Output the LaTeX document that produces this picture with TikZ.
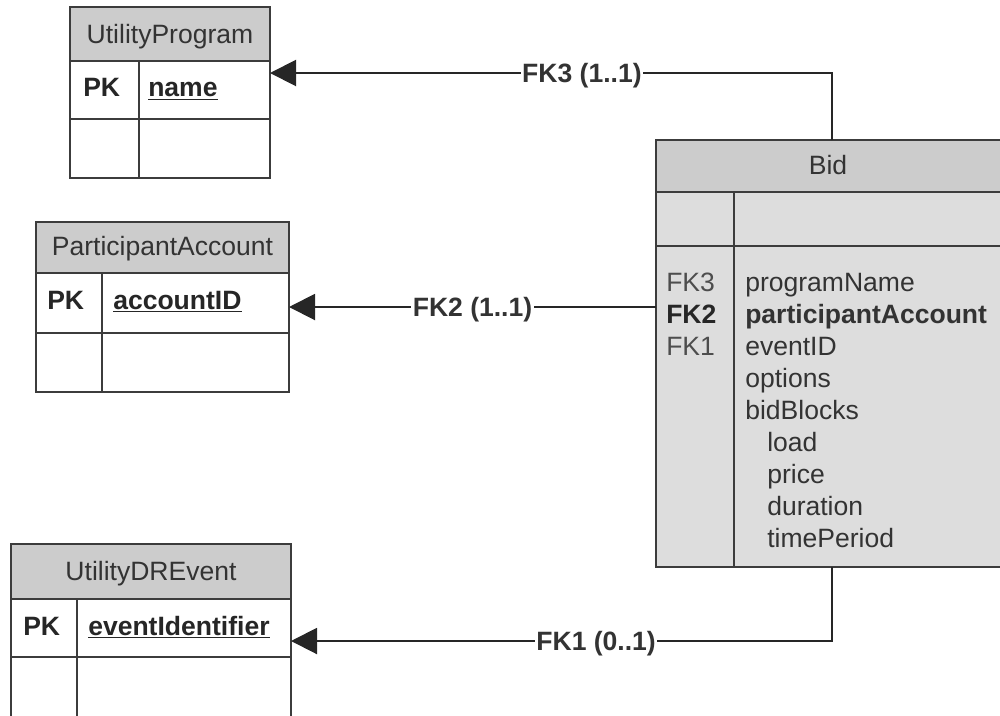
\documentclass[tikz,border=0pt]{standalone}
\usepackage{fontspec}
\setmainfont{Liberation Sans}
\usetikzlibrary{arrows.meta,fit}
\definecolor{tline}{HTML}{3C3C3C}
\definecolor{thead}{HTML}{CCCCCC}
\definecolor{tbody}{HTML}{DDDDDD}
\definecolor{ttext}{HTML}{333333}
\definecolor{tkey}{HTML}{4D4D4D}
\tikzset{
  tblbox/.style={inner sep=0pt, outer sep=0pt},
  tblline/.style={draw=tline, line width=1.6pt},
  txt/.style={inner sep=0pt, text height=14.2pt, text depth=0pt, text=ttext, font=\fontsize{19.9}{24}\selectfont},
  txtb/.style={txt, text=black!85, font=\fontsize{19.9}{24}\selectfont\bfseries},
  fk/.style={draw=black!85, line width=1.5pt},
  fkarrow/.style={fk, -{Triangle[length=19.5pt,width=19.5pt]}},
  fklabel/.style={txtb, text=ttext, fill=white, inner xsep=1pt},
}
\begin{document}
\begin{tikzpicture}[x=0.75pt, y=-0.75pt]
        \useasboundingbox (0,0) rectangle (1000,715);
        \clip (0,0) rectangle (1000,715);
        \node[tblbox, fill=white, fit={(70,7) (270,178)}] (prog) {};
        \fill[thead] (prog.north west) rectangle (270,61);
        \draw[tblline] (70,61) -- (270,61) (70,119) -- (270,119) (139,61) -- (139,178);
        \draw[tblline] (prog.north west) rectangle (prog.south east);
        \node[txt] (progT) at (170,34.5) {UtilityProgram};
        \node[txtb, anchor=west] (progK) at (83,87.5) {PK};
        \node[txtb, anchor=west] (progN) at (148,87.5) {\underline{name}};

        \node[tblbox, fill=white, fit={(36,222) (289,392)}] (acct) {};
        \fill[thead] (acct.north west) rectangle (289,273);
        \draw[tblline] (36,273) -- (289,273) (36,333) -- (289,333) (102,273) -- (102,392);
        \draw[tblline] (acct.north west) rectangle (acct.south east);
        \node[txt] (acctT) at (162.5,246.5) {ParticipantAccount};
        \node[txtb, anchor=west] (acctK) at (47,300) {PK};
        \node[txtb, anchor=west] (acctN) at (113,300) {\underline{accountID}};

        \node[tblbox, fill=white, fit={(11,544) (291,773)}] (evt) {};
        \fill[thead] (evt.north west) rectangle (291,599);
        \draw[tblline] (11,599) -- (291,599) (11,657) -- (291,657) (77,599) -- (77,773);
        \draw[tblline] (evt.north west) rectangle (evt.south east);
        \node[txt] (evtT) at (151,571.5) {UtilityDREvent};
        \node[txtb, anchor=west] (evtK) at (23,626) {PK};
        \node[txtb, anchor=west] (evtN) at (88,626) {\underline{eventIdentifier}};

        \node[tblbox, fill=tbody, fit={(656,140) (1008,567)}] (bid) {};
        \fill[thead] (bid.north west) rectangle (1008,192);
        \draw[tblline] (656,192) -- (1008,192) (656,246) -- (1008,246) (734,192) -- (734,567);
        \draw[tblline] (bid.north west) rectangle (bid.south east);
        \node[txt] (bidT) at (828,165) {Bid};
        \node[txt, anchor=west, text=tkey] (bidK3) at (666,282.5) {FK3};
        \node[txtb, anchor=west] (bidK2) at (666,314.5) {FK2};
        \node[txt, anchor=west, text=tkey] (bidK1) at (666,346.5) {FK1};
        \foreach \dx/\f [count=\i] in {0/programName, 0/{\textbf{participantAccount}}, 0/eventID, 0/options, 0/bidBlocks, 22/load, 22/price, 22/duration, 22/timePeriod}
          \node[txt, anchor=west] (bidF\i) at (745+\dx, 250.55+31.95*\i) {\f};

        \coordinate (fk3) at (832,73);
        \coordinate (fk1) at (832,641);
        \draw[fkarrow] (bid.north) -- (fk3) -- node[fklabel, pos=0.445] (fk3L) {FK3 (1..1)} (fk3 -| prog.east);
        \draw[fkarrow] (bid.west |- acct.east) -- node[fklabel] (fk2L) {FK2 (1..1)} (acct.east);
        \draw[fkarrow] (bid.south) -- (fk1) -- node[fklabel, pos=0.436] (fk1L) {FK1 (0..1)} (fk1 -| evt.east);
\end{tikzpicture}
\end{document}
